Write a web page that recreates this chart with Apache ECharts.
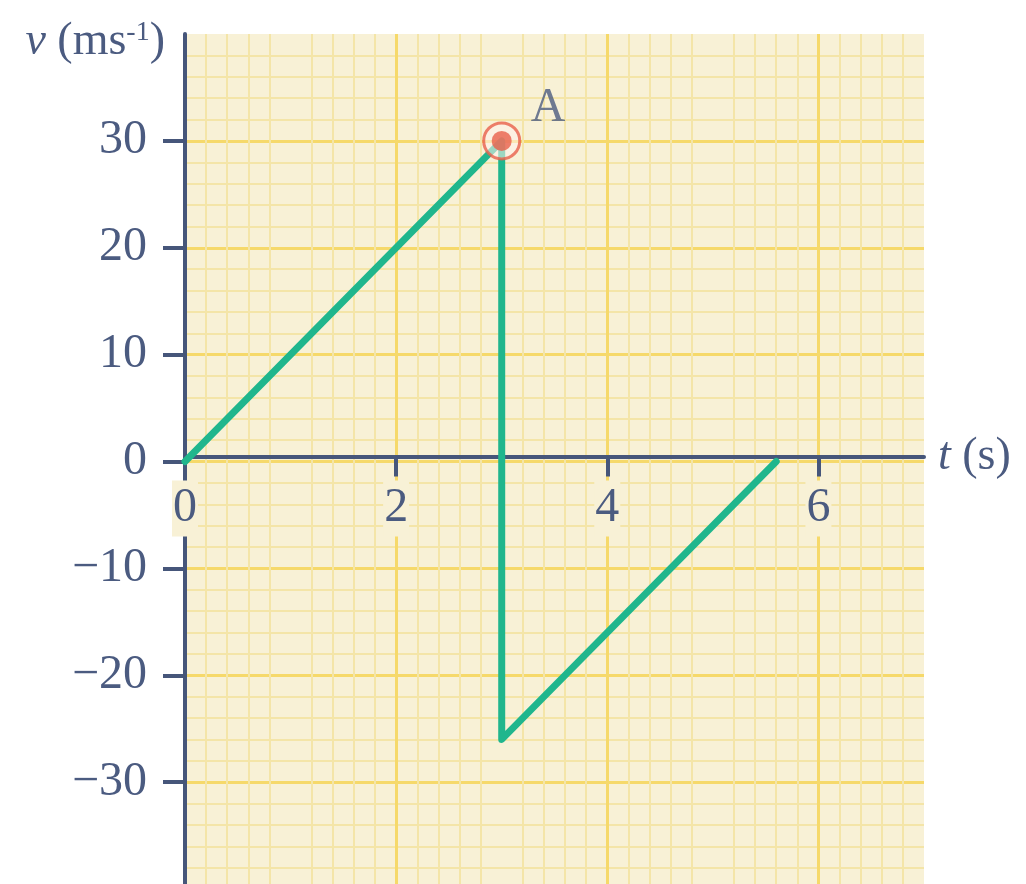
<!DOCTYPE html>
<html>
<head>
<meta charset="utf-8">
<script src="https://cdn.jsdelivr.net/npm/echarts@6/dist/echarts.min.js"></script>
<style>
  html, body { margin: 0; padding: 0; background: #fff; }
  #chart { width: 1026px; height: 884px; }
</style>
</head>
<body>
<div id="chart"></div>
<script>
// velocity-time graph
var lineData = [[0, 0], [3, 30], [3, -26], [5.6, 0]];
var pointA = [[3, 30]];
var xTicks = [0, 2, 4, 6];
var yTicks = [-30, -20, -10, 0, 10, 20, 30];

var axisColor = '#46567a';
var textColor = '#4b5b80';
var font = '"Liberation Serif", "DejaVu Serif", serif';
var plotBg = '#f8f1d6';

// grid layout (px); y range is symmetric so v=0 sits in the middle
var gridTop = 34, gridBottom = -5, chartH = 884;
var zeroOffset = -((chartH - gridBottom) - (gridTop + (chartH - gridTop + gridBottom) / 2));

var myChart = echarts.init(document.getElementById('chart'));

var option = {
    backgroundColor: '#fff',
    animation: false,
    grid: {
        left: 185,
        right: 102,
        top: gridTop,
        bottom: gridBottom,
        containLabel: false,
        outerBoundsMode: 'none',
        show: true,
        backgroundColor: plotBg,
        borderWidth: 0
    },
    xAxis: {
        type: 'value',
        position: 'bottom',
        offset: zeroOffset,
        min: 0,
        max: 7,
        interval: 1,
        name: '{i|t} (s)',
        nameLocation: 'end',
        nameGap: 14,
        nameTextStyle: {
            color: textColor,
            fontFamily: font,
            fontSize: 46,
            rich: {
                i: { fontStyle: 'italic', fontFamily: font, fontSize: 46, color: textColor }
            }
        },
        axisLine: { onZero: false, lineStyle: { color: axisColor, width: 4 } },
        axisTick: {
            show: true,
            customValues: xTicks,
            length: 20,
            lineStyle: { color: axisColor, width: 4 }
        },
        axisLabel: {
            customValues: xTicks,
            margin: 24,
            color: textColor,
            fontFamily: font,
            fontSize: 48,
            backgroundColor: plotBg,
            padding: [4, 1]
        },
        splitLine: { show: true, lineStyle: { color: '#f6d96a', width: 3 } },
        minorTick: { show: false, splitNumber: 5 },
        minorSplitLine: { show: true, lineStyle: { color: '#f4e5a8', width: 2 } }
    },
    yAxis: {
        type: 'value',
        min: -40,
        max: 40,
        interval: 10,
        name: '{i|v} (ms{sup|-1})',
        nameLocation: 'end',
        nameGap: -8,
        nameTextStyle: {
            color: textColor,
            fontFamily: font,
            fontSize: 46,
            align: 'right',
            verticalAlign: 'middle',
            padding: [0, 20, 0, 0],
            rich: {
                i: { fontStyle: 'italic', fontFamily: font, fontSize: 46, color: textColor },
                sup: { fontFamily: font, fontSize: 28, color: textColor, verticalAlign: 'top', padding: [0, 0, 14, 0] }
            }
        },
        axisLine: { lineStyle: { color: axisColor, width: 4 } },
        axisTick: {
            show: true,
            customValues: yTicks,
            length: 22,
            lineStyle: { color: axisColor, width: 4 }
        },
        axisLabel: {
            customValues: yTicks,
            margin: 38,
            color: textColor,
            fontFamily: font,
            fontSize: 48,
            formatter: function (v) {
                return v < 0 ? '\u2212' + Math.abs(v) : String(v);
            }
        },
        splitLine: { show: true, lineStyle: { color: '#f6d96a', width: 3 } },
        minorTick: { show: false, splitNumber: 5 },
        minorSplitLine: { show: true, lineStyle: { color: '#f4e5a8', width: 2 } }
    },
    series: [
        {
            type: 'line',
            data: lineData,
            symbol: 'none',
            lineStyle: { color: '#20b68d', width: 7, cap: 'round', join: 'round' },
            z: 3
        },
        {
            type: 'scatter',
            data: pointA,
            symbol: 'circle',
            symbolSize: 36,
            itemStyle: { color: 'rgba(255,240,235,0.7)', borderColor: '#e9604b', borderWidth: 3 },
            z: 4
        },
        {
            type: 'scatter',
            data: pointA,
            symbol: 'circle',
            symbolSize: 20,
            itemStyle: { color: '#e9604b' },
            label: {
                show: true,
                formatter: 'A',
                position: 'right',
                offset: [14, -32],
                color: textColor,
                fontFamily: font,
                fontSize: 48
            },
            z: 5
        }
    ]
};

myChart.setOption(option);
window.onresize = myChart.resize;
</script>
</body>
</html>
